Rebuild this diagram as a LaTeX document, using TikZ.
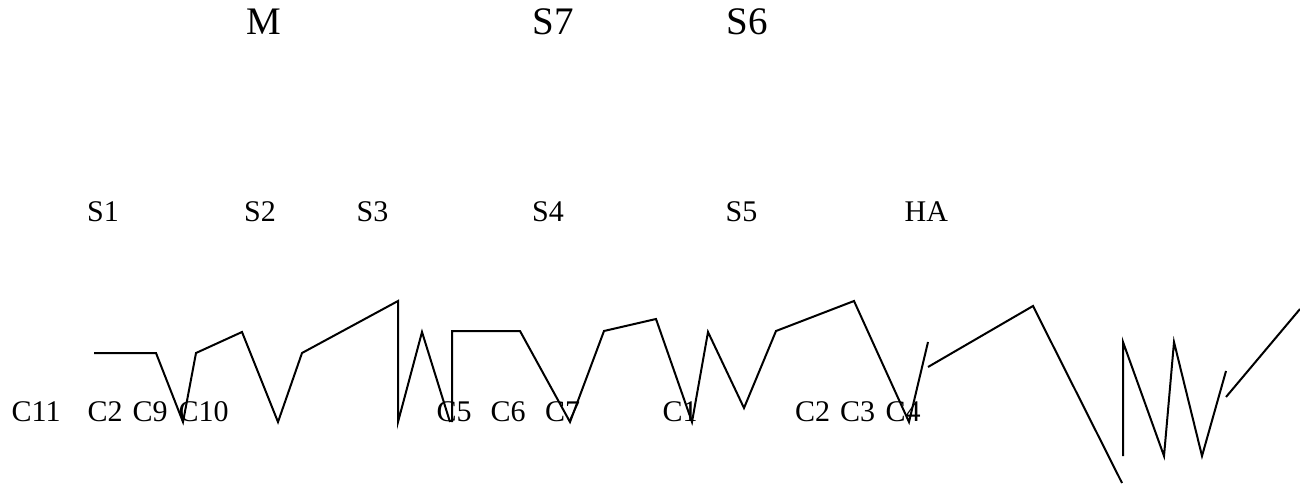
\documentclass[tikz,border=0pt]{standalone}
\usepackage{fontspec}
\setmainfont{Liberation Serif}
\begin{document}
\begin{tikzpicture}[x=1pt,y=-1pt,
  lbl/.style={anchor=base west,inner sep=0pt,font=\fontsize{30}{30}\selectfont},
  toplbl/.style={anchor=base west,inner sep=0pt,font=\fontsize{39}{39}\selectfont},
  wire/.style={line width=2pt,line join=miter}]
\useasboundingbox (0,0) rectangle (1300,489);
% top labels
\node[toplbl] (M)  at (246,34.5) {M};
\node[toplbl] (S7) at (532.5,34.5) {S7};
\node[toplbl] (S6) at (726.5,34.5) {S6};
% middle labels
\node[lbl] (S1) at (87,222) {S1};
\node[lbl] (S2) at (244,222) {S2};
\node[lbl] (S3) at (356.5,222) {S3};
\node[lbl] (S4) at (532,222) {S4};
\node[lbl] (S5) at (725.5,222) {S5};
\node[lbl] (HA) at (904.5,222) {HA};
% bottom labels
\node[lbl] (C11) at (11.5,421) {C11};
\node[lbl] (C2a) at (87.5,421) {C2};
\node[lbl] (C9)  at (132.5,421) {C9};
\node[lbl] (C10) at (178.5,421) {C10};
\node[lbl] (C5)  at (436.5,421) {C5};
\node[lbl] (C6)  at (490.5,421) {C6};
\node[lbl] (C7)  at (545,421) {C7};
\node[lbl] (C1)  at (662.5,421) {C1};
\node[lbl] (C2b) at (795,421) {C2};
\node[lbl] (C3)  at (840,421) {C3};
\node[lbl] (C4)  at (885.5,421) {C4};
% wires
\draw[wire] (94,353) -- (156,353) -- (183,422) -- (196,353) -- (242,332) -- (278,422)
  -- (302,353) -- (398,301) -- (398,422) -- (422,332) -- (450,422);
\draw[wire] (452,422) -- (452,331) -- (520,331) -- (570,422) -- (604,331) -- (656,319)
  -- (692,422) -- (708,332) -- (744,408) -- (776,331) -- (854,301) -- (909,422) -- (928,342);
\draw[wire] (928,367) -- (1033,306) -- (1122,483);
\draw[wire] (1123,456) -- (1123,342) -- (1164,456) -- (1174,342) -- (1202,456) -- (1226,371);
\draw[wire] (1226,397) -- (1300,309);
\end{tikzpicture}
\end{document}
